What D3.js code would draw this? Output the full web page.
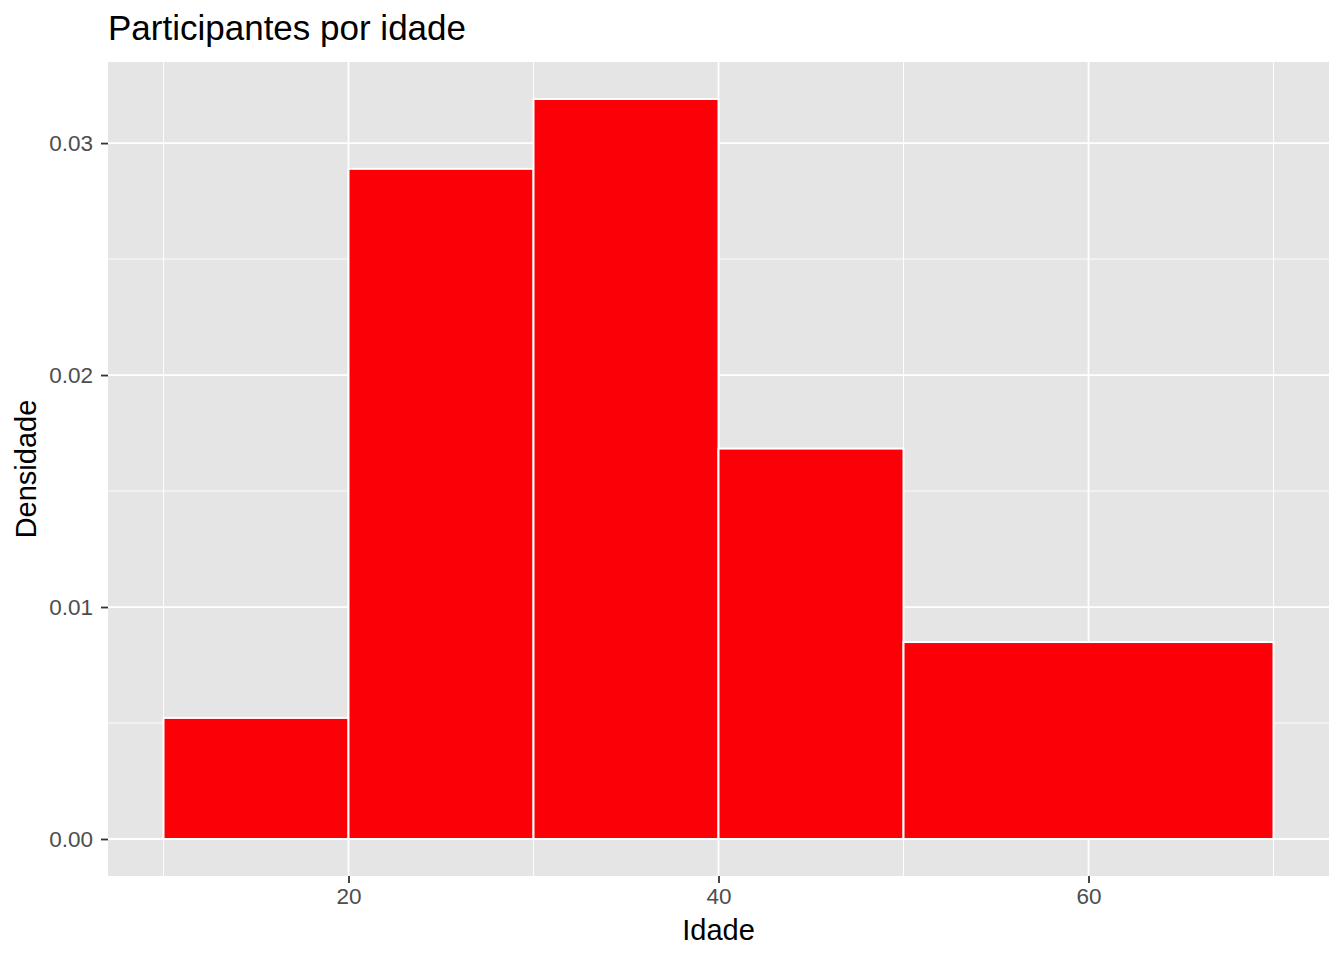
<!DOCTYPE html>
<html><head><meta charset="utf-8">
<script src="https://cdn.jsdelivr.net/npm/d3@7"></script>
<style>body{margin:0;background:#fff;} text{font-family:"Liberation Sans",Arial,Helvetica,sans-serif;}</style>
</head><body>
<svg id="c" width="1344" height="960"></svg>
<script>
const binStarts = [10, 20, 30, 40, 50];
const binEnds   = [20, 30, 40, 50, 70];
const density   = [0.00522, 0.02889, 0.03190, 0.01683, 0.00849];
const xTicks = [20, 40, 60];
const xMinor = [10, 30, 50, 70];
const yTicks = [0.00, 0.01, 0.02, 0.03];
const yMinor = [0.005, 0.015, 0.025];
const title = "Participantes por idade";
const xLabel = "Idade";
const yLabel = "Densidade";

const svg = d3.select("#c");
const L = 108, R = 1329, T = 62, B = 876;
const xmin = d3.min(binStarts), xmax = d3.max(binEnds);
const xpad = (xmax - xmin) * 0.05;
const ymax = d3.max(density), ypad = ymax * 0.05;
const x = d3.scaleLinear().domain([xmin - xpad, xmax + xpad]).range([L, R]);
const y = d3.scaleLinear().domain([-ypad, ymax + ypad]).range([B, T]);

svg.append("rect").attr("x", L).attr("y", T).attr("width", R - L).attr("height", B - T).attr("fill", "#E5E5E5");

const g = svg.append("g");
g.selectAll(".xmin").data(xMinor).enter().append("line")
  .attr("x1", d => x(d)).attr("x2", d => x(d)).attr("y1", T).attr("y2", B)
  .attr("stroke", "#fff").attr("stroke-width", 0.9);
g.selectAll(".ymin").data(yMinor).enter().append("line")
  .attr("y1", d => y(d)).attr("y2", d => y(d)).attr("x1", L).attr("x2", R)
  .attr("stroke", "#fff").attr("stroke-width", 0.9);
g.selectAll(".xmaj").data(xTicks).enter().append("line")
  .attr("x1", d => x(d)).attr("x2", d => x(d)).attr("y1", T).attr("y2", B)
  .attr("stroke", "#fff").attr("stroke-width", 1.8);
g.selectAll(".ymaj").data(yTicks).enter().append("line")
  .attr("y1", d => y(d)).attr("y2", d => y(d)).attr("x1", L).attr("x2", R)
  .attr("stroke", "#fff").attr("stroke-width", 1.8);

const bins = binStarts.map((s, i) => ({x0: s, x1: binEnds[i], d: density[i]}));
svg.append("g").selectAll("rect").data(bins).enter().append("rect")
  .attr("x", d => x(d.x0)).attr("width", d => x(d.x1) - x(d.x0))
  .attr("y", d => y(d.d)).attr("height", d => y(0) - y(d.d))
  .attr("fill", "#FC0008").attr("stroke", "#fff").attr("stroke-width", 2);

// axes
const xAxis = d3.axisBottom(x).tickValues(xTicks).tickSize(7).tickPadding(5).tickFormat(d3.format("d"));
const xa = svg.append("g").attr("transform", `translate(0,${B})`).call(xAxis);
const yAxis = d3.axisLeft(y).tickValues(yTicks).tickSize(7).tickPadding(8).tickFormat(d3.format(".2f"));
const ya = svg.append("g").attr("transform", `translate(${L},0)`).call(yAxis);
[xa, ya].forEach(a => {
  a.select(".domain").remove();
  a.selectAll(".tick line").attr("stroke", "#333").attr("stroke-width", 1.8);
  a.selectAll(".tick text").attr("fill", "#4D4D4D").style("font-size", "22.5px");
});

svg.append("text").attr("x", (L + R) / 2).attr("y", 940).attr("text-anchor", "middle")
  .style("font-size", "29px").attr("fill", "#000").text(xLabel);
svg.append("text").attr("transform", `translate(36,${(T + B) / 2}) rotate(-90)`).attr("text-anchor", "middle")
  .style("font-size", "29px").attr("fill", "#000").text(yLabel);
svg.append("text").attr("x", L).attr("y", 40).style("font-size", "35px").attr("fill", "#000").text(title);
</script>
</body></html>
